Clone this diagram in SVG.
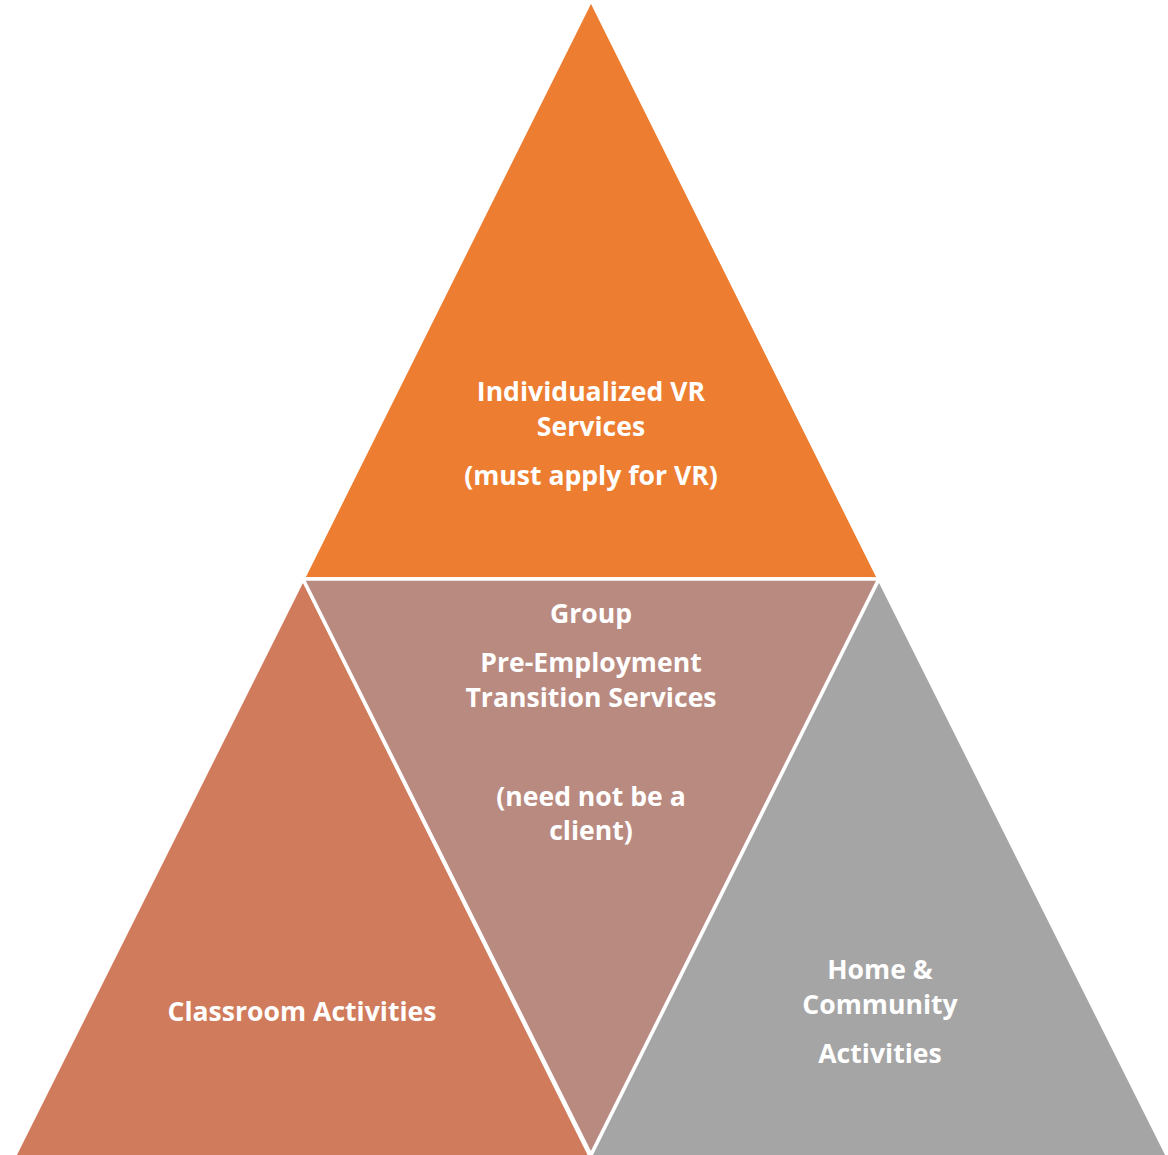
<svg xmlns="http://www.w3.org/2000/svg" width="1168" height="1155" viewBox="0 0 1168 1155">
<style>
.tri{stroke:#FFFFFF;stroke-width:3.5;stroke-linejoin:miter}
.t{font-family:"Open Sans",Lato,"Liberation Sans",sans-serif;font-weight:bold;font-size:26.6px;fill:#FFFFFF;text-anchor:middle}
</style>
<rect width="1168" height="1155" fill="#FFFFFF"/>
<g id="top">
<polygon class="tri" fill="#ED7D31" points="591,0 303,579 879,579"/>
<text class="t" x="591" y="401">Individualized VR</text>
<text class="t" x="591" y="436">Services</text>
<text class="t" x="591" y="485">(must apply for VR)</text>
</g>
<g id="left">
<polygon class="tri" fill="#D07B5C" points="303,579 13.5,1158 591,1158"/>
<text class="t" x="302" y="1021">Classroom Activities</text>
</g>
<g id="middle">
<polygon class="tri" fill="#B98A80" points="303,579 879,579 591,1155"/>
<text class="t" x="591" y="623">Group</text>
<text class="t" x="591" y="672">Pre-Employment</text>
<text class="t" x="591" y="707">Transition Services</text>
<text class="t" x="591" y="806">(need not be a</text>
<text class="t" x="591" y="840">client)</text>
</g>
<g id="right">
<polygon class="tri" fill="#A5A5A5" points="879,579 589.5,1158 1168.5,1158"/>
<text class="t" x="880" y="979">Home &amp;</text>
<text class="t" x="880" y="1014">Community</text>
<text class="t" x="880" y="1063">Activities</text>
</g>
<g id="connectors"></g>
</svg>
